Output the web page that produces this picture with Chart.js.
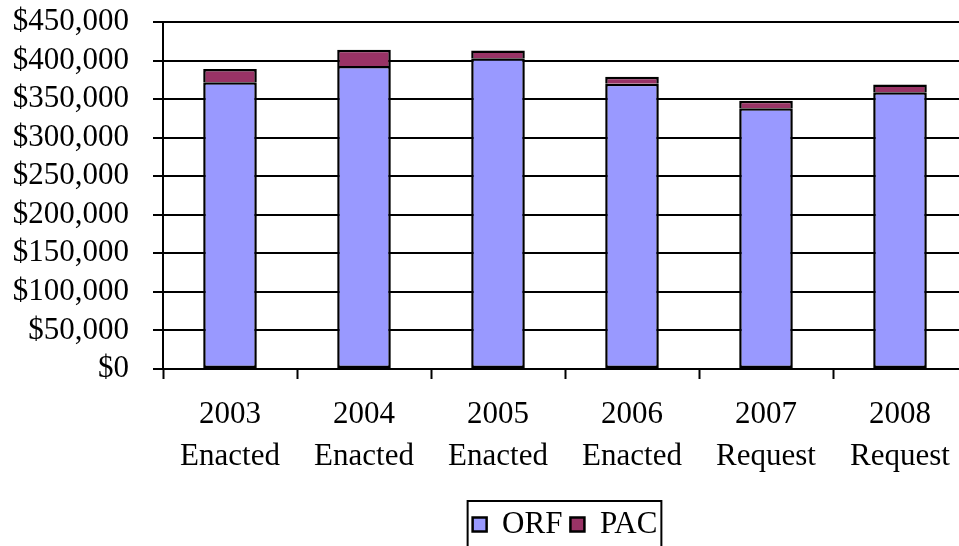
<!DOCTYPE html>
<html>
<head>
<meta charset="utf-8">
<script src="https://cdn.jsdelivr.net/npm/chart.js@4"></script>
<style>
  html, body { margin: 0; padding: 0; background: #fff; overflow: hidden; }
  #wrap { position: relative; width: 975px; height: 562px; }
</style>
</head>
<body>
<div id="wrap"><canvas id="myChart"></canvas></div>
<script>
const categories = [
	['2003', 'Enacted'],
	['2004', 'Enacted'],
	['2005', 'Enacted'],
	['2006', 'Enacted'],
	['2007', 'Request'],
	['2008', 'Request'],
]
const orfValues = [372000, 393000, 403000, 370000, 338000, 359000]
const pacValues = [17000, 21000, 10000, 9000, 10000, 10000]

Chart.defaults.font.family = "'Liberation Serif', 'Times New Roman', serif"
Chart.defaults.color = '#000'

// box drawn round the legend entries
const legendFrame = {
	id: 'legendFrame',
	afterDraw(chart) {
		const boxes = chart.legend && chart.legend.legendHitBoxes
		if (!boxes || !boxes.length) return
		const left = Math.min(...boxes.map(b => b.left)) - 5
		const right = Math.max(...boxes.map(b => b.left + b.width)) + 4
		const top = Math.min(...boxes.map(b => b.top)) - 8
		const bottom = Math.max(...boxes.map(b => b.top + b.height)) + 12
		const c = chart.ctx
		c.save()
		c.strokeStyle = '#000'
		c.lineWidth = 2
		c.strokeRect(left, top, right - left, bottom - top)
		c.restore()
	},
}

const ctx = document.getElementById('myChart')

new Chart(ctx, {
	type: 'bar',
	data: {
		labels: categories,
		datasets: [
			{
				label: 'ORF',
				data: orfValues,
				backgroundColor: '#9999FF',
				borderColor: '#000',
				borderWidth: 2.5,
				borderSkipped: false,
			},
			{
				label: 'PAC',
				data: pacValues,
				backgroundColor: '#993366',
				borderColor: '#000',
				borderWidth: 2.5,
				borderSkipped: 'start',
			},
		],
	},
	options: {
		responsive: true,
		maintainAspectRatio: false,
		animation: false,
		layout: {
			padding: { top: 22, left: 0, right: 8, bottom: 12 },
		},
		datasets: {
			bar: {
				categoryPercentage: 1,
				barPercentage: 0.4,
			},
		},
		plugins: {
			legend: {
				position: 'bottom',
				fullSize: false,
				labels: {
					boxWidth: 14,
					boxHeight: 14,
					padding: 8,
					font: { size: 31 },
				},
			},
			tooltip: { enabled: false },
		},
		scales: {
			x: {
				stacked: true,
				afterFit(scale) {
					scale.height = 132
				},
				grid: {
					drawOnChartArea: false,
					drawTicks: true,
					tickLength: 10,
					tickColor: '#000',
					tickWidth: 2,
					offset: true,
				},
				border: { color: '#000', width: 2 },
				ticks: {
					padding: 15,
					maxRotation: 0,
					autoSkip: false,
					font: { size: 31, lineHeight: 1.35 },
				},
			},
			y: {
				stacked: true,
				min: 0,
				max: 450000,
				afterFit(scale) {
					scale.width = 163
					scale.paddingTop = 0
					scale.paddingBottom = 0
				},
				grid: {
					color: '#000',
					lineWidth: 2,
					drawTicks: true,
					tickLength: 10,
					tickColor: '#000',
					tickWidth: 2,
				},
				border: { color: '#000', width: 2 },
				ticks: {
					stepSize: 50000,
					autoSkip: false,
					padding: 24,
					font: { size: 31 },
					callback: v => '$' + v.toLocaleString('en-US'),
				},
			},
		},
	},
	plugins: [legendFrame],
})
</script>
</body>
</html>
